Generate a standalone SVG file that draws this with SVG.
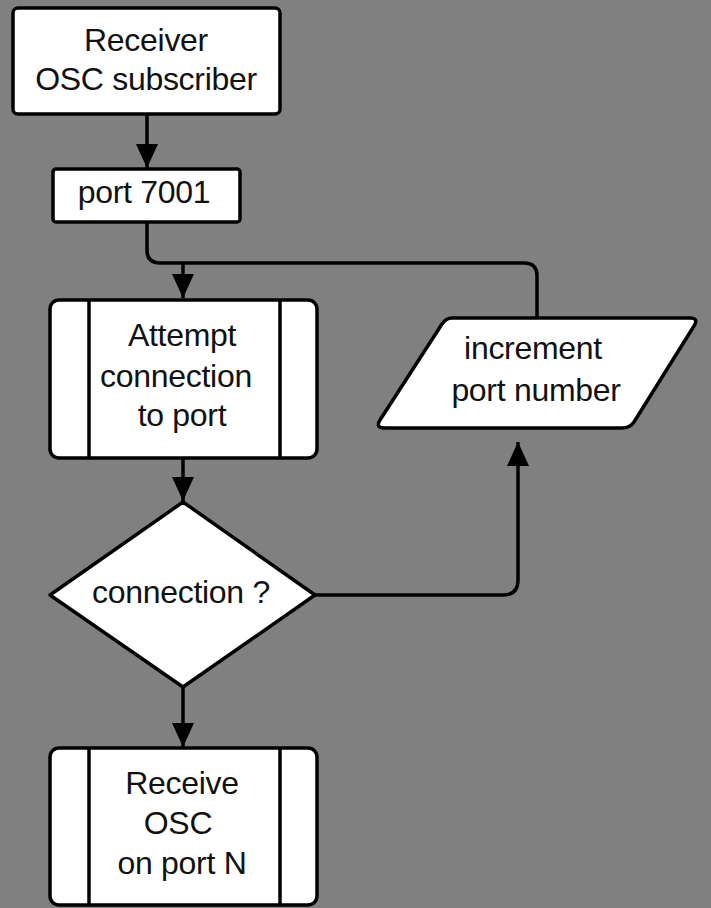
<svg xmlns="http://www.w3.org/2000/svg" width="711" height="908" viewBox="0 0 711 908">
<defs>
<style>
.bg{fill:#808080}
.shape{fill:#fff;stroke:#000;stroke-width:3.5;stroke-linejoin:round}
.line{fill:none;stroke:#000;stroke-width:3.5}
.txt{font-family:"Liberation Sans",Arial,sans-serif;font-size:32px;fill:#111;text-anchor:middle;letter-spacing:-0.3px}
</style>
<marker id="arr" markerWidth="24" markerHeight="22" refX="24" refY="11" orient="auto" markerUnits="userSpaceOnUse">
<path d="M0,0 L24,11 L0,22 Z" fill="#000"/>
</marker>
</defs>
<rect class="bg" x="0" y="0" width="711" height="908"/>
<g id="connectors">
<path class="line" d="M147,115 V168" marker-end="url(#arr)"/>
<path class="line" d="M147,222 V250 Q147,263 160,263 H524 Q537,263 537,276 V318"/>
<path class="line" d="M183,263 V298" marker-end="url(#arr)"/>
<path class="line" d="M183,458 V501" marker-end="url(#arr)"/>
<path class="line" d="M183,687 V747" marker-end="url(#arr)"/>
<path class="line" d="M315,595 H503 Q518,595 518,580 V442" marker-end="url(#arr)"/>
</g>
<g id="receiver">
<rect class="shape" x="13" y="8" width="267" height="106" rx="5"/>
<text class="txt" x="146" y="51">Receiver</text>
<text class="txt" x="146" y="90">OSC subscriber</text>
</g>
<g id="port7001">
<rect class="shape" x="53" y="169" width="187" height="53" rx="3"/>
<text class="txt" x="144" y="203">port 7001</text>
</g>
<g id="attempt">
<rect class="shape" x="50" y="300" width="267" height="158" rx="9"/>
<line class="line" x1="89" y1="300" x2="89" y2="458"/>
<line class="line" x1="280" y1="300" x2="280" y2="458"/>
<text class="txt" x="182" y="346">Attempt</text>
<text class="txt" x="176" y="387">connection</text>
<text class="txt" x="182" y="426">to port</text>
</g>
<g id="decision">
<polygon class="shape" points="183,502 315,595 183,687 50,595"/>
<text class="txt" x="181" y="603">connection ?</text>
</g>
<g id="increment">
<path class="shape" d="M452,318 H690 Q699,318 694,326 L634,422 Q630,428 622,428 H385 Q375,428 380,420 L442,324 Q446,318 452,318 Z"/>
<text class="txt" x="533" y="359">increment</text>
<text class="txt" x="536" y="401">port number</text>
</g>
<g id="receive">
<rect class="shape" x="50" y="748" width="267" height="157" rx="9"/>
<line class="line" x1="89" y1="748" x2="89" y2="905"/>
<line class="line" x1="280" y1="748" x2="280" y2="905"/>
<text class="txt" x="182" y="794">Receive</text>
<text class="txt" x="178" y="834">OSC</text>
<text class="txt" x="182" y="874">on port N</text>
</g>
</svg>
